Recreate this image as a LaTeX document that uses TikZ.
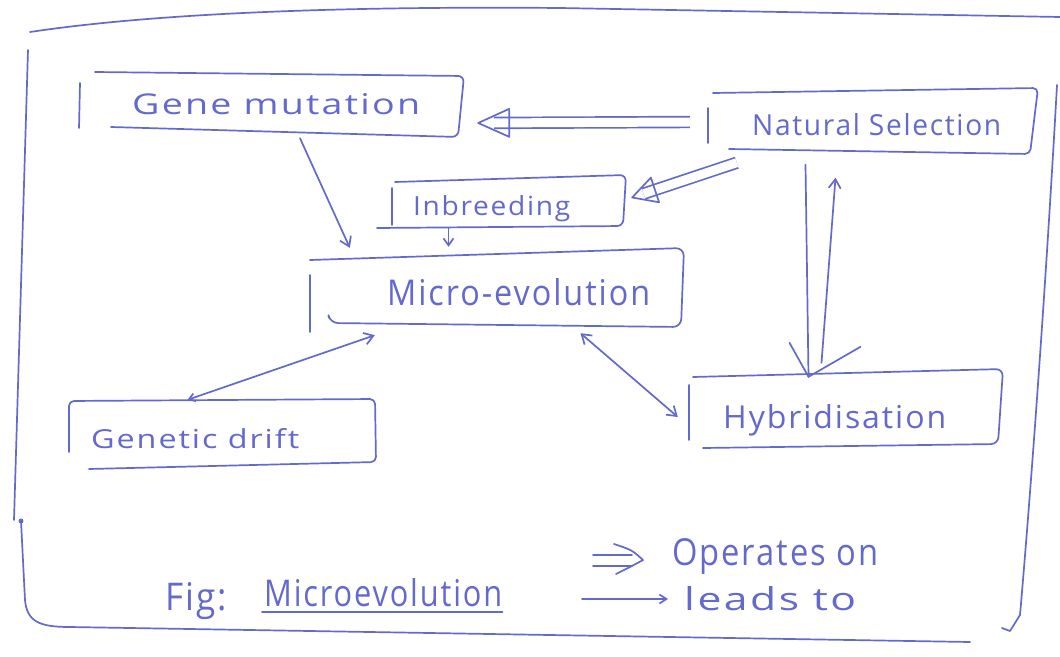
\documentclass[tikz,border=0pt]{standalone}
\usepackage{fontspec}
\usepackage{graphicx}
\newfontfamily\hand[LetterSpace=6]{Open Sans}
\usetikzlibrary{calc,arrows.meta}
\definecolor{ink}{RGB}{100,105,205}
\newcommand\hw[3]{\resizebox{#1pt}{#2pt}{\hand #3}}
\begin{document}
\begin{tikzpicture}[x=1pt,y=-1pt,
  pen/.style={draw=ink,line width=1.7pt,line cap=round,line join=round},
  lbl/.style={inner sep=0pt,anchor=base west,text=ink},
  boxarea/.style={inner sep=0pt,draw=none},
  tip/.style={-{Straight Barb[length=9pt,width=12pt]}},
  twotip/.style={{Straight Barb[length=9pt,width=12pt]}-{Straight Barb[length=9pt,width=12pt]}},
  shaft/.style={pen,line cap=butt,double=white,double distance=9pt}]
\useasboundingbox[fill=white] (0,0) rectangle (1060,656);

% invisible box areas (for connectors)
\node[boxarea,minimum width=370pt,minimum height=64pt] (gm) at (280,106) {};
\node[boxarea,minimum width=325pt,minimum height=65pt] (ns) at (872.5,122) {};
\node[boxarea,minimum width=233pt,minimum height=51pt] (inb) at (508.5,202.5) {};
\node[boxarea,minimum width=373pt,minimum height=78pt] (me) at (496.5,289) {};
\node[boxarea,minimum width=307pt,minimum height=66pt] (gd) at (222.5,433) {};
\node[boxarea,minimum width=313pt,minimum height=80pt] (hy) at (846.5,410) {};

% outer frame
\draw[pen] (30,32) .. controls (150,14) and (330,6) .. (560,8) -- (1060,17);
\draw[pen] (28,50) -- (14,520);
\fill[ink] (21,521) circle (2.5);
\draw[pen] (21,521) -- (25,600) .. controls (27,622) and (40,627) .. (70,627) -- (970,642);
\draw[pen] (1057,85) .. controls (1045,300) and (1030,500) .. (1020,615) -- (1010,631) -- (1002,628);

% hand-drawn boxes
\draw[pen] (80,83) -- (79,128);
\draw[pen,rounded corners=6pt] (95,72) -- (464,76) -- (458,137) -- (111,127);
\draw[pen] (708,108) -- (708,143);
\draw[pen,rounded corners=5pt] (713,93) -- (1038,88) -- (1030,154) -- (729,149);
\draw[pen] (392,188) -- (392,225);
\draw[pen,rounded corners=6pt] (395,182) -- (626,175) -- (623,226) -- (377,228);
\draw[pen] (310,275) -- (310,332);
\draw[pen,rounded corners=8pt] (310,260) -- (684,248) -- (681,327) -- (330,323) -- (329,318);
\draw[pen,rounded corners=5pt] (69,452) -- (69,401) -- (375,399) -- (376,462) -- (89,469);
\draw[pen] (689,385) -- (689,440);
\draw[pen,rounded corners=7pt] (693,377) -- (1003,369) -- (998,444) -- (703,448);

% texts
\node[lbl] (gmt) at (132,114) {\hw{288}{21}{Gene mutation}};
\node[lbl] (nst) at (752,135) {\hw{249}{22}{Natural Selection}};
\node[lbl] (inbt) at (413,215) {\hw{157}{20}{Inbreeding}};
\node[lbl] (met) at (387,305) {\hw{263}{27}{Micro-evolution}};
\node[lbl] (gdt) at (91,448) {\hw{208}{20}{Genetic drift}};
\node[lbl] (hyt) at (723,428) {\hw{223}{24}{Hybridisation}};
\node[lbl] (figt) at (165,610) {\hw{62}{28}{Fig:}};
\node[lbl] (mevt) at (264,606) {\hw{238}{28}{Microevolution}};
\node[lbl] (opt) at (672,565) {\hw{206}{27}{Operates on}};
\node[lbl] (leadt) at (684,610) {\hw{172}{24}{leads to}};
\draw[pen] ($(mevt.base west)+(-2,6)$) -- ($(mevt.base east)+(0,6)$);

% NS => GM
\coordinate (s1) at ($(ns.west)+(-20,0)$);
\coordinate (t1) at ($(gm.east)+(13,17)$);
\coordinate (c1) at ($(t1)!31pt!(s1)$);
\draw[shaft] (s1) -- ($(t1)!16pt!(s1)$);
\draw[pen] (t1) -- ($(c1)!14pt!90:(t1)$) -- ($(c1)!14pt!-90:(t1)$) -- cycle;

% NS => Inbreeding
\coordinate (s2) at ($(ns.south west)+(27,8)$);
\coordinate (t2) at ($(inb.east)+(7,-5)$);
\coordinate (c2) at ($(t2)!24pt!(s2)$);
\draw[shaft] (s2) -- ($(t2)!12pt!(s2)$);
\draw[pen] (t2) -- ($(c2)!13pt!90:(t2)$) -- ($(c2)!13pt!-90:(t2)$) -- cycle;

% simple connectors
\draw[pen,tip] ($(gm.south)+(20,0)$) -- ($(me.north west)+(40,-2)$);
\draw[pen,-{Straight Barb[length=7pt,width=10pt]}] ($(inb.south)+(-60,0)$) -- ($(me.north)+(-48,-3)$);
\draw[pen,{Straight Barb[length=6pt,width=8pt]}-{Straight Barb[length=9pt,width=12pt]}] ($(gd.north)+(-35,0)$) -- ($(me.south west)+(65,7)$);
\draw[pen,twotip] ($(me.south)+(84,5)$) -- ($(hy.west)+(-12,7)$);

% NS -> Hybridisation (double line with V head) and return arrow
\coordinate (v1) at ($(ns.south)+(-67,10)$);
\coordinate (v2) at ($(hy.north)+(-38,7)$);
\draw[pen] (v1) -- (v2);
\draw[pen] ($(v2)+(-19,-34)$) -- (v2) -- ($(v2)+(52,-30)$);
\draw[pen,tip] ($(hy.north)+(-25,-7)$) -- ($(ns.south)+(-37,23)$);

% legend symbols
\draw[pen] (593,555) -- (632,555);
\draw[pen] (593,566) -- (632,566);
\draw[pen] (614,544) .. controls (632,550) .. (643,560) .. controls (632,566) .. (616,574);
\coordinate (la) at (582,599);
\coordinate (lb) at (668,599);
\draw[pen,-{Straight Barb[length=7pt,width=9pt]}] (la) -- (lb);
\end{tikzpicture}
\end{document}
